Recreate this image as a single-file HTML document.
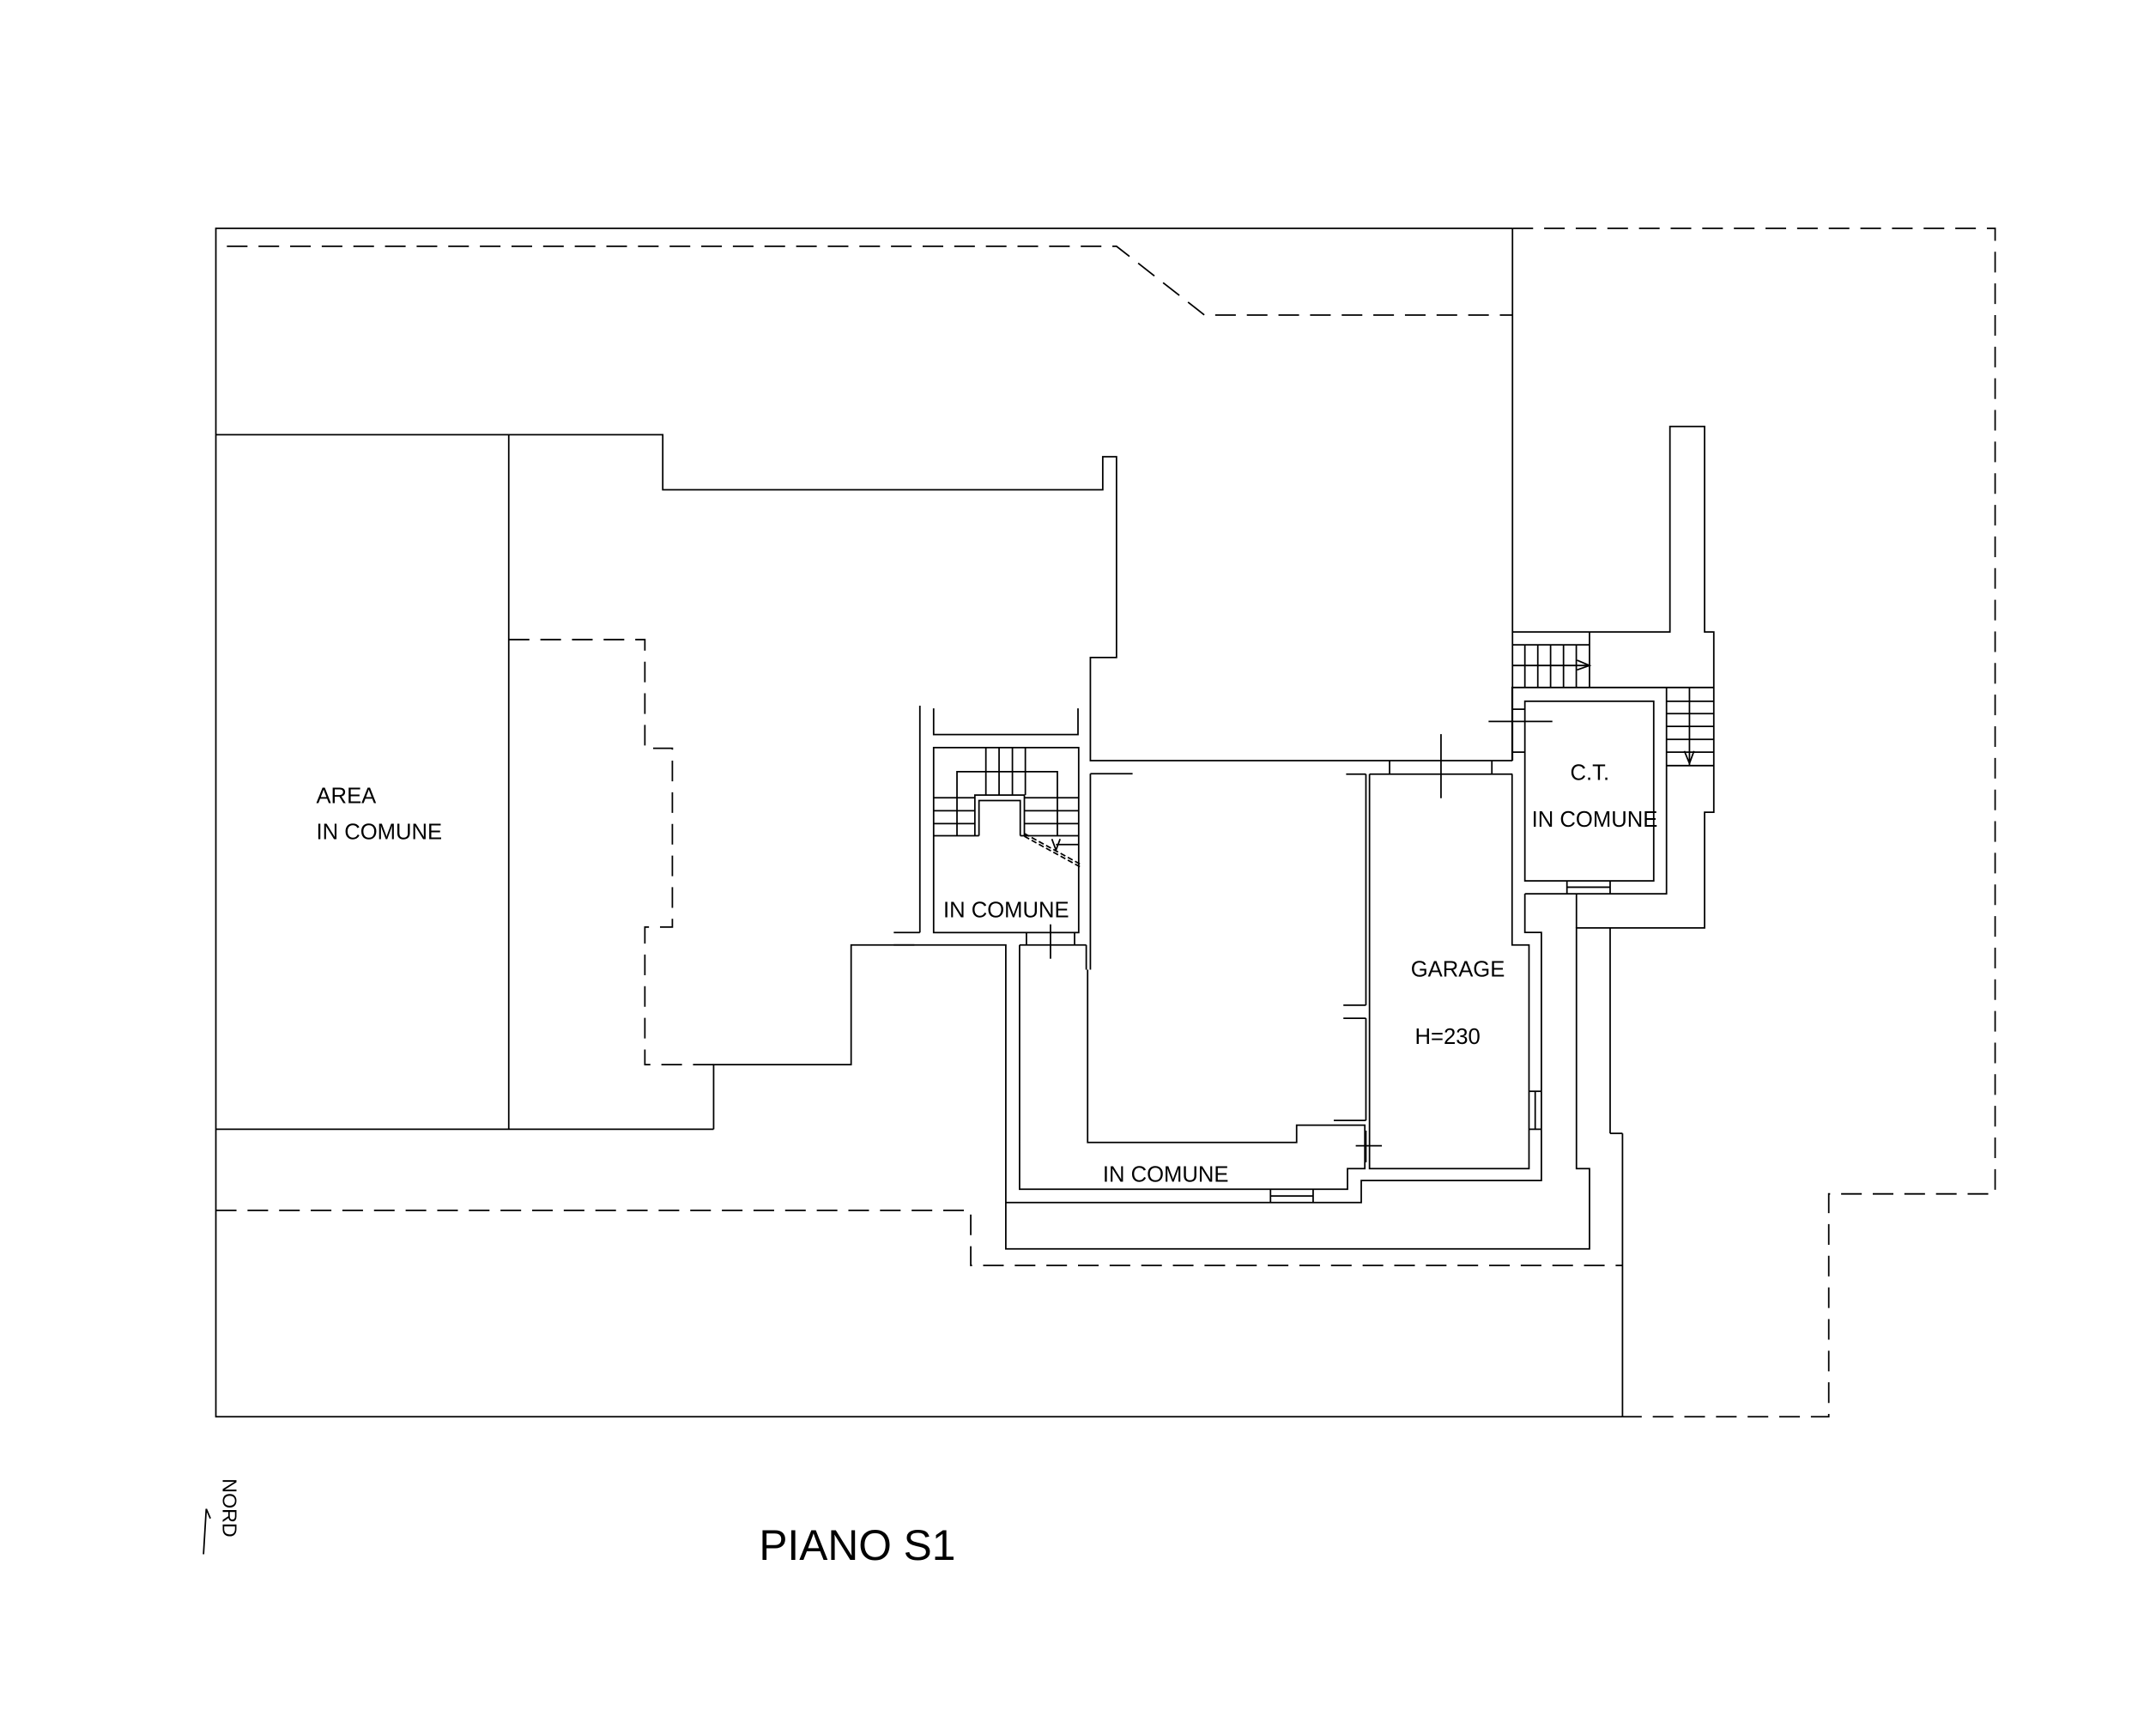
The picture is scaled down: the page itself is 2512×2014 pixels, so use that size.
<!DOCTYPE html>
<html><head><meta charset="utf-8"><style>
html,body{margin:0;padding:0;background:#fff}
svg{display:block}
text{font-family:"Liberation Sans",sans-serif;fill:#000}
</style></head><body>
<svg width="2512" height="2014" viewBox="0 0 1568 1257" xmlns="http://www.w3.org/2000/svg">
<g fill="none" stroke="#000" stroke-width="1.1">
<polyline points="1100,166 157,166 157,1030 1180,1030"/>
<line x1="1100" y1="166" x2="1100" y2="553"/>
<line x1="1180" y1="824" x2="1180" y2="1030"/>
<g stroke-dasharray="15,8">
<polyline points="1100,166 1451,166 1451,868 1330,868 1330,1030 1180,1030"/>
<polyline points="165,179 812,179 876,229 1100,229"/>
<polyline points="370,465 469,465 469,544 489,544 489,674 469,674 469,774 519,774"/>
<polyline points="157,880 706,880 706,920 1180,920"/>
</g>
<polyline points="157,316 482,316 482,356 802,356 802,332 812,332 812,478 793,478 793,553 1100,553"/>
<line x1="370" y1="316" x2="370" y2="821"/>
<line x1="157" y1="821" x2="519" y2="821"/>
<polyline points="519,821 519,774 619,774 619,687 665,687"/>
<line x1="669" y1="513" x2="669" y2="678"/>
<line x1="650" y1="678" x2="669" y2="678"/>
<polyline points="679,515 679,534 784,534 784,515"/>
<rect x="679" y="543.5" width="105.5" height="134.5"/>
<line x1="717" y1="543.5" x2="717" y2="578"/>
<line x1="726.6" y1="543.5" x2="726.6" y2="578"/>
<line x1="736.3" y1="543.5" x2="736.3" y2="578"/>
<line x1="745.7" y1="543.5" x2="745.7" y2="578"/>
<polyline points="696,607.6 696,561 769,561 769,607.6"/>
<polyline points="709,607.6 709,578 745,578 745,607.6"/>
<polyline points="712,607.6 712,582 742,582 742,607.6"/>
<line x1="679" y1="580" x2="709" y2="580"/><line x1="745" y1="580" x2="784.5" y2="580"/>
<line x1="679" y1="589.4" x2="709" y2="589.4"/><line x1="745" y1="589.4" x2="784.5" y2="589.4"/>
<line x1="679" y1="598.8" x2="709" y2="598.8"/><line x1="745" y1="598.8" x2="784.5" y2="598.8"/>
<line x1="679" y1="607.6" x2="712" y2="607.6"/><line x1="742" y1="607.6" x2="784.5" y2="607.6"/>
<line x1="768" y1="614" x2="784.5" y2="614"/>
<line x1="745" y1="606" x2="787" y2="629" stroke-dasharray="4,2"/>
<line x1="745" y1="608" x2="787" y2="631" stroke-dasharray="4,2"/>
<polyline points="765,610 768,618 771,610"/>
<line x1="746.5" y1="678" x2="746.5" y2="687"/>
<line x1="781.5" y1="678" x2="781.5" y2="687"/>
<line x1="764" y1="672" x2="764" y2="697"/>
<polyline points="650,687 731.5,687 731.5,908 1156,908 1156,849.6 1146.5,849.6 1146.5,674.6 1239.7,674.6 1239.7,590.5 1246.4,590.5 1246.4,459.4 1239.7,459.4 1239.7,310 1214.5,310 1214.5,459.4 1099.7,459.4"/>
<polyline points="741.5,687 741.5,864.6 980,864.6 980,849.6 992.6,849.6 992.6,818 943,818 943,830.6 791,830.6 791,705"/>
<line x1="741.5" y1="687" x2="790" y2="687"/>
<line x1="790" y1="687" x2="790" y2="705"/>
<line x1="793" y1="562.5" x2="793" y2="705"/>
<line x1="793" y1="562.5" x2="823.7" y2="562.5"/>
<polyline points="731.5,874.3 990,874.3 990,858.3 1121,858.3 1121,677.9 1109,677.9 1109,649.8"/>
<line x1="924" y1="864.6" x2="924" y2="874.3"/><line x1="955" y1="864.6" x2="955" y2="874.3"/>
<line x1="924" y1="869.5" x2="955" y2="869.5"/>
<line x1="979" y1="562.8" x2="993.4" y2="562.8"/>
<line x1="996" y1="562.8" x2="1100" y2="562.8"/>
<polyline points="996,562.8 996,849.6 1112,849.6 1112,687 1099.7,687 1099.7,562.8"/>
<line x1="993.4" y1="562.8" x2="993.4" y2="730.8"/>
<line x1="977" y1="730.8" x2="993.4" y2="730.8"/>
<line x1="977" y1="740.3" x2="993.4" y2="740.3"/>
<line x1="993.4" y1="740.3" x2="993.4" y2="814.6"/>
<line x1="970" y1="814.6" x2="993.4" y2="814.6"/>
<line x1="993.4" y1="822" x2="993.4" y2="845"/>
<line x1="986" y1="833" x2="1005" y2="833"/>
<line x1="1112" y1="793.4" x2="1121" y2="793.4"/><line x1="1112" y1="821" x2="1121" y2="821"/>
<line x1="1116.5" y1="793.4" x2="1116.5" y2="821"/>
<line x1="1010.6" y1="553" x2="1010.6" y2="562.8"/><line x1="1085" y1="553" x2="1085" y2="562.8"/>
<line x1="1048" y1="533.7" x2="1048" y2="580.3"/>
<rect x="1109" y="509.8" width="93.7" height="130.6"/>
<polyline points="1099.7,553 1099.7,499.8 1246.4,499.8"/>
<polyline points="1212,499.8 1212,649.8 1109,649.8"/>
<line x1="1099.7" y1="515.6" x2="1109" y2="515.6"/><line x1="1099.7" y1="546.8" x2="1109" y2="546.8"/>
<line x1="1082.6" y1="524.5" x2="1129" y2="524.5"/>
<line x1="1139.6" y1="640.4" x2="1139.6" y2="649.8"/><line x1="1171" y1="640.4" x2="1171" y2="649.8"/>
<line x1="1139.6" y1="645" x2="1171" y2="645"/>
<line x1="1171" y1="674.6" x2="1171" y2="824"/>
<line x1="1171" y1="824" x2="1180" y2="824"/>
<line x1="1146.5" y1="649.8" x2="1146.5" y2="674.6"/>
<line x1="1099.7" y1="468.8" x2="1156" y2="468.8"/>
<line x1="1156" y1="459.4" x2="1156" y2="499.8"/>
<line x1="1099.7" y1="483.8" x2="1156" y2="483.8"/>
<line x1="1109" y1="468.8" x2="1109" y2="499.8"/>
<line x1="1118.4" y1="468.8" x2="1118.4" y2="499.8"/>
<line x1="1127.7" y1="468.8" x2="1127.7" y2="499.8"/>
<line x1="1137.1" y1="468.8" x2="1137.1" y2="499.8"/>
<line x1="1146.4" y1="468.8" x2="1146.4" y2="499.8"/>
<polyline points="1147,480 1156,483.8 1147,487"/>
<line x1="1212" y1="509.8" x2="1246.4" y2="509.8"/>
<line x1="1212" y1="518.8" x2="1246.4" y2="518.8"/>
<line x1="1212" y1="528.1" x2="1246.4" y2="528.1"/>
<line x1="1212" y1="537.5" x2="1246.4" y2="537.5"/>
<line x1="1212" y1="546.8" x2="1246.4" y2="546.8"/>
<line x1="1212" y1="556.6" x2="1246.4" y2="556.6"/>
<line x1="1228.7" y1="499.8" x2="1228.7" y2="556.6"/>
<polyline points="1225,546 1228.7,555 1232,546"/>
<path d="M150,1097 L148,1130 M150,1097 L153,1104"/>
</g>
<text x="230" y="584" font-size="16">AREA</text>
<text x="230" y="610" font-size="16">IN COMUNE</text>
<text x="686" y="667" font-size="16">IN COMUNE</text>
<text x="1142" y="567" font-size="16">C.T.</text>
<text x="1114" y="601" font-size="16">IN COMUNE</text>
<text x="1026" y="710" font-size="16">GARAGE</text>
<text x="1029" y="759" font-size="16">H=230</text>
<text x="802" y="859" font-size="16">IN COMUNE</text>
<text x="552" y="1134" font-size="31">PIANO S1</text>
<text x="0" y="0" font-size="14.5" transform="translate(162,1075) rotate(90)">NORD</text>
</svg>
</body></html>
